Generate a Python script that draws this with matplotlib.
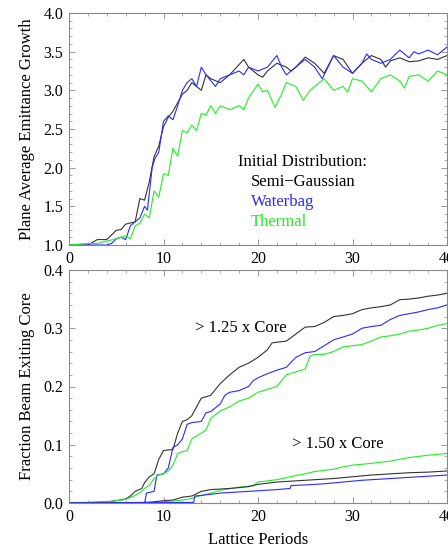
import matplotlib
matplotlib.use("Agg")
import matplotlib.pyplot as plt
from matplotlib.ticker import MultipleLocator

plt.rcParams['font.family'] = ['Liberation Serif', 'DejaVu Serif']
plt.rcParams['mathtext.fontset'] = 'stix'

# ---------------- Data: top panel (emittance growth) ----------------
sg_x = [0, 2, 3, 4, 5, 5.5, 6, 7, 7.5, 8, 8.5, 9, 9.5, 10, 10.5, 11, 12, 12.5, 13, 14, 14.5,
        15, 16, 17, 18.5, 19, 20, 20.5, 21, 22, 23, 23.5, 24, 25, 26, 27, 28, 29, 30, 31, 32,
        33, 33.5, 34, 35, 36, 37, 38, 39, 40]
sg_y = [1.0, 1.0, 1.07, 1.07, 1.19, 1.2, 1.27, 1.3, 1.6, 1.58, 1.82, 2.14, 2.28, 2.53, 2.65, 2.73,
        2.95, 3.0, 3.1, 3.0, 3.2, 3.15, 3.1, 3.2, 3.4, 3.3, 3.2, 3.17, 3.25, 3.35, 3.3, 3.25, 3.3,
        3.43, 3.35, 3.22, 3.45, 3.4, 3.22, 3.35, 3.45, 3.4, 3.3, 3.38, 3.42, 3.37, 3.38, 3.42, 3.4, 3.45]

wb_x = [0, 4, 4.5, 5, 5.5, 6, 6.5, 7, 7.5, 8, 8.3, 8.8, 9.1, 9.5, 10, 10.5, 11, 11.5, 12, 12.5,
        13, 13.5, 14, 14.5, 15.5, 16, 17, 18, 18.5, 19, 20, 21, 22, 22.5, 23, 24, 25, 26, 26.8,
        28, 29, 30, 31, 31.5, 32, 33, 34, 35, 36, 36.5, 37, 38, 39, 40]
wb_y = [1.0, 1.0, 1.02, 1.08, 1.1, 1.07, 1.25, 1.3, 1.35, 1.5, 1.45, 2.0, 2.12, 2.2, 2.6, 2.67,
        2.62, 2.8, 3.0, 3.1, 3.15, 3.05, 3.3, 3.2, 3.05, 3.15, 3.2, 3.25, 3.2, 3.3, 3.25, 3.3, 3.45,
        3.3, 3.2, 3.3, 3.4, 3.3, 3.15, 3.45, 3.3, 3.22, 3.35, 3.47, 3.4, 3.35, 3.4, 3.52, 3.42, 3.5,
        3.47, 3.52, 3.46, 3.56]

th_x = [0, 2, 3, 4, 5, 6, 6.5, 7, 7.5, 8, 8.5, 9, 9.5, 10, 10.5, 11, 11.5, 12, 12.5, 13, 13.5,
        14, 14.5, 15, 15.5, 16, 17, 18, 18.5, 19, 20, 20.5, 21, 21.8, 22.5, 23, 24, 24.8, 25.5,
        26, 27, 28, 29, 29.5, 30, 31, 32, 33, 34, 35, 35.5, 36, 37, 38, 39, 40]
th_y = [1.0, 1.02, 1.02, 1.05, 1.08, 1.12, 1.08, 1.25, 1.28, 1.4, 1.35, 1.7, 1.62, 1.92, 1.9,
        2.25, 2.15, 2.48, 2.45, 2.55, 2.48, 2.7, 2.68, 2.8, 2.7, 2.8, 2.75, 2.8, 2.75, 2.9, 3.08,
        2.98, 3.0, 2.78, 2.95, 3.1, 3.05, 2.87, 3.0, 3.05, 3.15, 3.0, 3.05, 2.98, 3.15, 3.12, 2.98,
        3.15, 3.2, 3.12, 3.03, 3.18, 3.2, 3.12, 3.25, 3.2]

# ---------------- Data: bottom panel (fraction exiting core) ----------------
sg125_x = [0, 4, 5, 6, 6.5, 7, 7.7, 8, 8.5, 9, 9.5, 10, 11, 11.5, 12, 12.5, 13, 14, 15, 16, 17,
           18, 19, 20, 21, 21.5, 23, 24, 25, 26, 27, 28, 29, 30, 31, 32, 33, 34, 35, 36, 37, 38, 39, 40]
sg125_y = [0, 0.002, 0.004, 0.007, 0.012, 0.02, 0.025, 0.035, 0.045, 0.05, 0.075, 0.09, 0.092,
           0.12, 0.14, 0.143, 0.15, 0.18, 0.185, 0.205, 0.22, 0.233, 0.24, 0.25, 0.263, 0.275,
           0.278, 0.29, 0.302, 0.303, 0.31, 0.32, 0.322, 0.325, 0.332, 0.335, 0.337, 0.34, 0.349,
           0.35, 0.352, 0.355, 0.357, 0.36]

wb125_x = [0, 8, 8.2, 9, 9.3, 10, 10.5, 11, 11.5, 12, 12.5, 13, 14, 14.5, 15, 16, 16.5, 17, 18,
           19, 19.5, 20, 21, 22, 23, 24, 25, 26, 27, 28, 29, 30, 31, 32, 33, 34, 35, 36, 37, 38, 39, 40]
wb125_y = [0, 0, 0.017, 0.02, 0.048, 0.05, 0.06, 0.095, 0.1, 0.11, 0.135, 0.138, 0.14, 0.155,
           0.157, 0.17, 0.185, 0.19, 0.193, 0.2, 0.21, 0.215, 0.222, 0.228, 0.233, 0.25, 0.258,
           0.26, 0.27, 0.28, 0.285, 0.29, 0.3, 0.303, 0.305, 0.315, 0.322, 0.325, 0.328, 0.332,
           0.335, 0.34]

th125_x = [0, 3, 4, 5, 6, 7, 7.5, 8, 8.5, 9, 9.5, 10, 10.5, 11, 11.5, 12, 12.5, 13, 14, 14.5, 15,
           16, 17, 18, 19, 20, 21, 22, 23, 24, 25, 25.5, 26, 27, 28, 29, 30, 31, 32, 33, 34, 35,
           36, 37, 38, 39, 40]
th125_y = [0.001, 0.001, 0.002, 0.004, 0.006, 0.013, 0.018, 0.025, 0.03, 0.042, 0.048, 0.05,
           0.055, 0.065, 0.085, 0.088, 0.09, 0.11, 0.12, 0.125, 0.145, 0.158, 0.165, 0.175, 0.18,
           0.19, 0.195, 0.2, 0.22, 0.225, 0.23, 0.252, 0.255, 0.255, 0.26, 0.268, 0.27, 0.272,
           0.278, 0.285, 0.287, 0.29, 0.295, 0.297, 0.3, 0.305, 0.308]

sg150_x = [0, 8, 9, 10, 11, 12, 13, 14, 15, 17, 19, 20, 22, 24, 26, 28, 30, 32, 34, 36, 38, 40]
sg150_y = [0, 0.001, 0.002, 0.004, 0.005, 0.01, 0.012, 0.02, 0.023, 0.025, 0.028, 0.032, 0.036,
           0.038, 0.04, 0.042, 0.045, 0.048, 0.05, 0.052, 0.053, 0.055]

wb150_x = [0, 13.2, 13.3, 14, 15, 16, 18, 20, 22, 23.4, 23.5, 25, 27, 29, 31, 33, 35, 37, 40]
wb150_y = [0, 0.001, 0.012, 0.013, 0.015, 0.017, 0.019, 0.021, 0.023, 0.025, 0.03, 0.031, 0.033,
           0.036, 0.039, 0.041, 0.043, 0.045, 0.048]

th150_x = [0, 8, 10, 12, 13, 14, 15, 16, 18, 19.5, 20, 22, 24, 25, 26, 28, 29, 30, 32, 34, 35,
           36, 38, 40]
th150_y = [0, 0, 0.002, 0.005, 0.008, 0.013, 0.017, 0.022, 0.027, 0.03, 0.036, 0.04, 0.047,
           0.05, 0.054, 0.058, 0.062, 0.065, 0.068, 0.072, 0.075, 0.078, 0.082, 0.085]

x_ticks = [0, 10, 20, 30, 40]
top_yticks = [1.0, 1.5, 2.0, 2.5, 3.0, 3.5, 4.0]
bot_yticks = [0.0, 0.1, 0.2, 0.3, 0.4]

legend_title = "Initial Distribution:"
legend_names = ["Semi\u2212Gaussian", "Waterbag", "Thermal"]

C_SG = '#333333'
C_WB = '#2a2aff'
C_TH = '#22ee22'
FRAME = '#888888'
LW = 0.8

fig = plt.figure(figsize=(4.48, 5.45), dpi=100)
ax1 = fig.add_axes([69/448, 1-245/545, 378/448, 232/545])
ax2 = fig.add_axes([69/448, 1-503/545, 378/448, 233/545])


def style(ax):
    for s in ax.spines.values():
        s.set_color(FRAME)
        s.set_linewidth(0.8)
    ax.tick_params(which='both', direction='in', top=True, right=True, color=FRAME,
                   labelsize=11.5, pad=4)
    ax.tick_params(which='major', length=4, width=0.6)
    ax.tick_params(which='minor', length=2, width=0.5)
    ax.xaxis.set_minor_locator(MultipleLocator(2))
    ax.set_xlim(0, 40)
    ax.set_xticks(x_ticks)
    ax.set_xticklabels([str(t) for t in x_ticks])


# Top panel
ax1.plot(sg_x, sg_y, color=C_SG, lw=LW)
ax1.plot(wb_x, wb_y, color=C_WB, lw=LW)
ax1.plot(th_x, th_y, color=C_TH, lw=LW)
style(ax1)
ax1.set_ylim(1.0, 4.0)
ax1.set_yticks(top_yticks)
ax1.set_yticklabels([f"{t:.1f}" for t in top_yticks])
ax1.yaxis.set_minor_locator(MultipleLocator(0.1))
ax1.set_ylabel("Plane Average Emittance Growth", fontsize=12, labelpad=6)

ax1.text(0.447, 0.358, legend_title, transform=ax1.transAxes, fontsize=12, color='black',
         va='center')
for i, (name, c) in enumerate(zip(legend_names, ['black', C_WB, C_TH])):
    ax1.text(0.482, 0.272 - i*0.0865, name, transform=ax1.transAxes, fontsize=12, color=c,
             va='center')

# Bottom panel
ax2.plot(sg125_x, sg125_y, color=C_SG, lw=LW)
ax2.plot(wb125_x, wb125_y, color=C_WB, lw=LW)
ax2.plot(th125_x, th125_y, color=C_TH, lw=LW)
ax2.plot(th150_x, th150_y, color=C_TH, lw=LW)
ax2.plot(sg150_x, sg150_y, color=C_SG, lw=LW)
ax2.plot(wb150_x, wb150_y, color=C_WB, lw=LW)
style(ax2)
ax2.set_ylim(0.0, 0.4)
ax2.set_yticks(bot_yticks)
ax2.set_yticklabels([f"{t:.1f}" for t in bot_yticks])
ax2.yaxis.set_minor_locator(MultipleLocator(0.02))
ax2.set_ylabel("Fraction Beam Exiting Core", fontsize=12, labelpad=6)
ax2.set_xlabel("Lattice Periods", fontsize=12, labelpad=5)

ax2.text(0.333, 0.75, "> 1.25 x Core", transform=ax2.transAxes, fontsize=12, va='center')
ax2.text(0.59, 0.252, "> 1.50 x Core", transform=ax2.transAxes, fontsize=12, va='center')

fig.savefig("out.png", dpi=100)
